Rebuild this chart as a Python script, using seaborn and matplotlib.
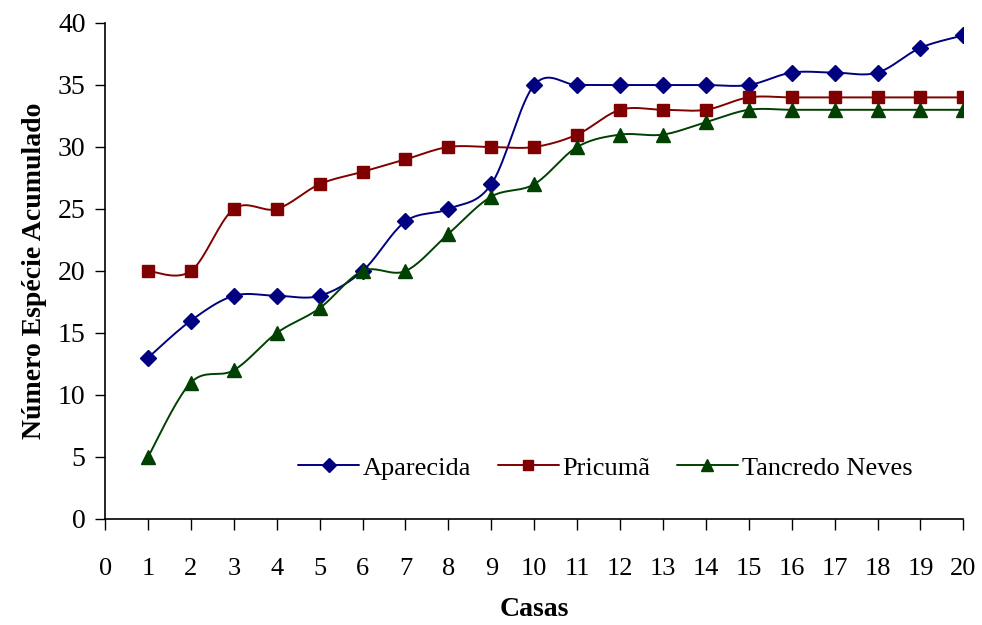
import numpy as np
import matplotlib
matplotlib.use("Agg")
import matplotlib.pyplot as plt
import pandas as pd
import seaborn as sns

# data
casas = list(range(1, 21))
aparecida = [13, 16, 18, 18, 18, 20, 24, 25, 27, 35, 35, 35, 35, 35, 35, 36, 36, 36, 38, 39]
pricuma = [20, 20, 25, 25, 27, 28, 29, 30, 30, 30, 31, 33, 33, 33, 34, 34, 34, 34, 34, 34]
tancredo = [5, 11, 12, 15, 17, 20, 20, 23, 26, 27, 30, 31, 31, 32, 33, 33, 33, 33, 33, 33]

series = {"Aparecida": aparecida, "Pricumã": pricuma, "Tancredo Neves": tancredo}
colors = {"Aparecida": "#000080", "Pricumã": "#800000", "Tancredo Neves": "#004000"}
markers = {"Aparecida": "D", "Pricumã": "s", "Tancredo Neves": "^"}
msizes = {"Aparecida": 8, "Pricumã": 9, "Tancredo Neves": 10}


def smooth(x, y, n=20):
    # excel-like smoothed line (bezier with catmull-rom tangents)
    x = np.asarray(x, float)
    y = np.asarray(y, float)
    px = np.concatenate([[x[0]], x, [x[-1]]])
    py = np.concatenate([[y[0]], y, [y[-1]]])
    xs, ys = [], []
    t = np.linspace(0, 1, n)
    for i in range(1, len(px) - 2):
        p0 = np.array([px[i], py[i]])
        p3 = np.array([px[i + 1], py[i + 1]])
        c1 = p0 + (np.array([px[i + 1], py[i + 1]]) - np.array([px[i - 1], py[i - 1]])) / 6
        c2 = p3 - (np.array([px[i + 2], py[i + 2]]) - np.array([px[i], py[i]])) / 6
        b = ((1 - t) ** 3)[:, None] * p0 + (3 * (1 - t) ** 2 * t)[:, None] * c1 \
            + (3 * (1 - t) * t ** 2)[:, None] * c2 + (t ** 3)[:, None] * p3
        xs.extend(b[:, 0])
        ys.extend(b[:, 1])
    return xs, ys


sns.set_style("white", {"text.color": "black", "axes.labelcolor": "black",
                        "xtick.color": "black", "ytick.color": "black"})
plt.rcParams["font.family"] = ["Liberation Serif", "DejaVu Serif"]

fig = plt.figure(figsize=(9.82, 6.25), dpi=100)
ax = fig.add_axes([0.107, 0.1696, 0.874, 0.7936])

for name, vals in series.items():
    sx, sy = smooth(casas, vals)
    sm = pd.DataFrame({"x": sx, "y": sy})
    sns.lineplot(data=sm, x="x", y="y", sort=False, color=colors[name], lw=1.4, ax=ax)
    ax.plot(casas, vals, ls="", marker=markers[name], ms=msizes[name],
            color=colors[name], label=name)

# legend entries with line + marker
handles = [plt.Line2D([], [], color=colors[n], lw=1.4, marker=markers[n], ms=msizes[n] * 0.85)
           for n in series]
ax.legend(handles, list(series.keys()), loc="center right", bbox_to_anchor=(0.968, 0.103),
          ncol=3, frameon=False, fontsize=19, handlelength=2.3, handletextpad=0.15,
          columnspacing=1.0)

ax.set_xlim(0, 20)
ax.set_ylim(0, 40)
ax.set_xticks(range(0, 21))
ax.set_yticks(range(0, 41, 5))
ax.tick_params(axis="x", direction="out", length=8, width=1, pad=20, labelsize=19, bottom=True)
ax.tick_params(axis="y", direction="out", length=7, width=1, pad=7, labelsize=20, left=True)
sns.despine(ax=ax)
for s in ["left", "bottom"]:
    ax.spines[s].set_color("black")
    ax.spines[s].set_linewidth(1.2)

ax.set_xlabel("Casas", fontsize=20, fontweight="bold", labelpad=12)
ax.set_ylabel("Número Espécie Acumulado", fontsize=20, fontweight="bold", labelpad=8)

fig.savefig("out.png", dpi=100)
